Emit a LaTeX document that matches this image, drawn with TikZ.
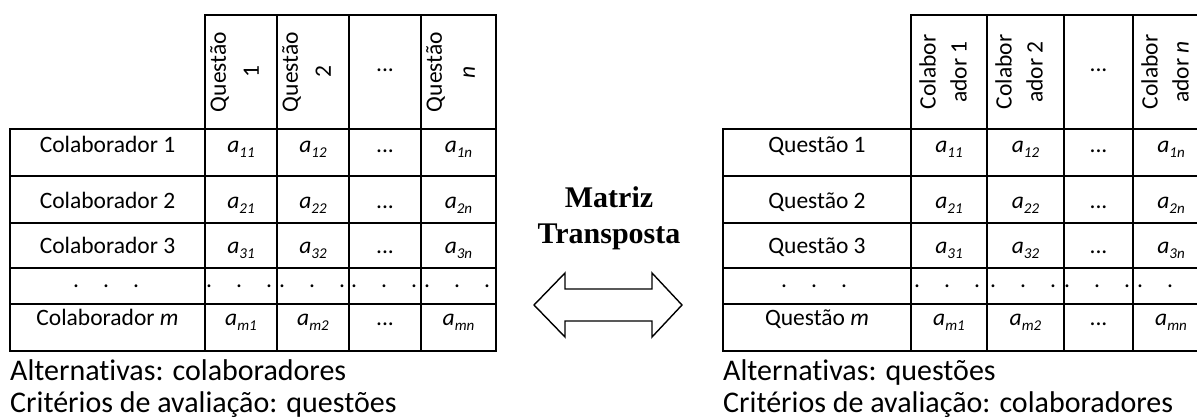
\documentclass[tikz,border=0pt]{standalone}
\usepackage{fontspec}
\setmainfont{Carlito}[Ligatures=NoCommon]
\newfontfamily\titlefont{Liberation Serif}
\newcommand{\tabfont}{\fontsize{23.5}{28}\selectfont}
\newcommand{\mA}[1]{\textit{a}\raisebox{-0.2em}{\fontsize{15}{15}\selectfont\itshape #1}}
\newcommand{\dotrow}{\makebox[66pt]{.\hfill.\hfill.}}
\begin{document}
\begin{tikzpicture}[x=1pt,y=-1pt,
  grid/.style={line width=2.6pt},
  cell/.style={font=\tabfont, inner sep=0pt, anchor=base},
  hdrL/.style={font=\fontsize{23.5}{33}\selectfont, rotate=90, align=center, inner sep=0pt, anchor=north},
  hdrR/.style={font=\fontsize{23.5}{31}\selectfont, rotate=90, align=center, inner sep=0pt, anchor=north},
  capt/.style={font=\fontsize{30}{36}\selectfont, inner sep=0pt, anchor=base west},
  ttl/.style={font=\titlefont\bfseries\fontsize{30}{36}\selectfont, inner sep=0pt, anchor=base},
  arrowshape/.style={draw=black, line width=1.4pt, fill=white, line join=miter}]
\useasboundingbox (0,0) rectangle (1197,419);
\clip (0,0) rectangle (1197,419);

% ---------------- left table ----------------
\draw[grid] (205,15) rectangle (496,129);
\draw[grid] (10,129) rectangle (496,351);
\foreach \x in {205,277,349,421} \draw[grid] (\x,15) -- (\x,351);
\foreach \y in {176,223,268,304} \draw[grid] (10,\y) -- (496,\y);

\node[hdrL] (LH1) at (210,72) {Questão\\1};
\node[hdrL] (LH2) at (282,72) {Questão\\2};
\node[cell] (LH3) at (385,72) {...};
\node[hdrL] (LH4) at (426,72) {Questão\\\textit{n}};

\node[cell] (LR1) at (107.5,153) {Colaborador 1};
\node[cell] (LR2) at (107.5,209) {Colaborador 2};
\node[cell] (LR3) at (107.5,254) {Colaborador 3};
\node[cell] (LRd) at (106,288) {\dotrow};
\node[cell] (LRm) at (107.5,326) {Colaborador \textit{m}};

\foreach \yy/\r in {153/1,209/2,254/3,326/m}{
  \node[cell] (L\r1) at (241,\yy) {\mA{\r1}};
  \node[cell] (L\r2) at (313,\yy) {\mA{\r2}};
  \node[cell] (L\r3) at (385,\yy) {...};
  \node[cell] (L\r4) at (458.5,\yy) {\mA{\r n}};
}
\node[cell] (Ld1) at (239,288) {\dotrow};
\node[cell] (Ld2) at (312,288) {\dotrow};
\node[cell] (Ld3) at (384,288) {\dotrow};
\node[cell] (Ld4) at (457,288) {\dotrow};

\node[capt] (LC1) at (10,381) {Alternativas: colaboradores};
\node[capt] (LC2) at (10,413) {Critérios de avaliação: questões};

% ---------------- middle ----------------
\node[ttl] (T1) at (609,208) {Matriz};
\node[ttl] (T2) at (609,244) {Transposta};
\draw[arrowshape] (534,305) -- (565,273) -- (565,289) -- (652,289) -- (652,273)
  -- (682,305) -- (652,337) -- (652,321) -- (565,321) -- (565,337) -- cycle;

% ---------------- right table ----------------
\draw[grid] (911,15) rectangle (1209,129);
\draw[grid] (723,129) rectangle (1209,351);
\foreach \x in {911,987,1064,1133} \draw[grid] (\x,15) -- (\x,351);
\foreach \y in {176,223,268,304} \draw[grid] (723,\y) -- (1209,\y);

\node[hdrR] (RH1) at (919,72) {Colabor\\ador 1};
\node[hdrR] (RH2) at (995,72) {Colabor\\ador 2};
\node[cell] (RH3) at (1098.5,72) {...};
\node[hdrR] (RH4) at (1141,72) {Colabor\\ador \textit{n}};

\node[cell] (RR1) at (817,153) {Questão 1};
\node[cell] (RR2) at (817,209) {Questão 2};
\node[cell] (RR3) at (817,254) {Questão 3};
\node[cell] (RRd) at (814,288) {\dotrow};
\node[cell] (RRm) at (817,326) {Questão \textit{m}};

\foreach \yy/\r in {153/1,209/2,254/3,326/m}{
  \node[cell] (R\r1) at (949,\yy) {\mA{\r1}};
  \node[cell] (R\r2) at (1025.5,\yy) {\mA{\r2}};
  \node[cell] (R\r3) at (1098.5,\yy) {...};
  \node[cell] (R\r4) at (1171,\yy) {\mA{\r n}};
}
\node[cell] (Rd1) at (947,288) {\dotrow};
\node[cell] (Rd2) at (1023,288) {\dotrow};
\node[cell] (Rd3) at (1097,288) {\dotrow};
\node[cell] (Rd4) at (1170,288) {\dotrow};

\node[capt] (RC1) at (723,381) {Alternativas: questões};
\node[capt] (RC2) at (723,413) {Critérios de avaliação: colaboradores};
\end{tikzpicture}
\end{document}
